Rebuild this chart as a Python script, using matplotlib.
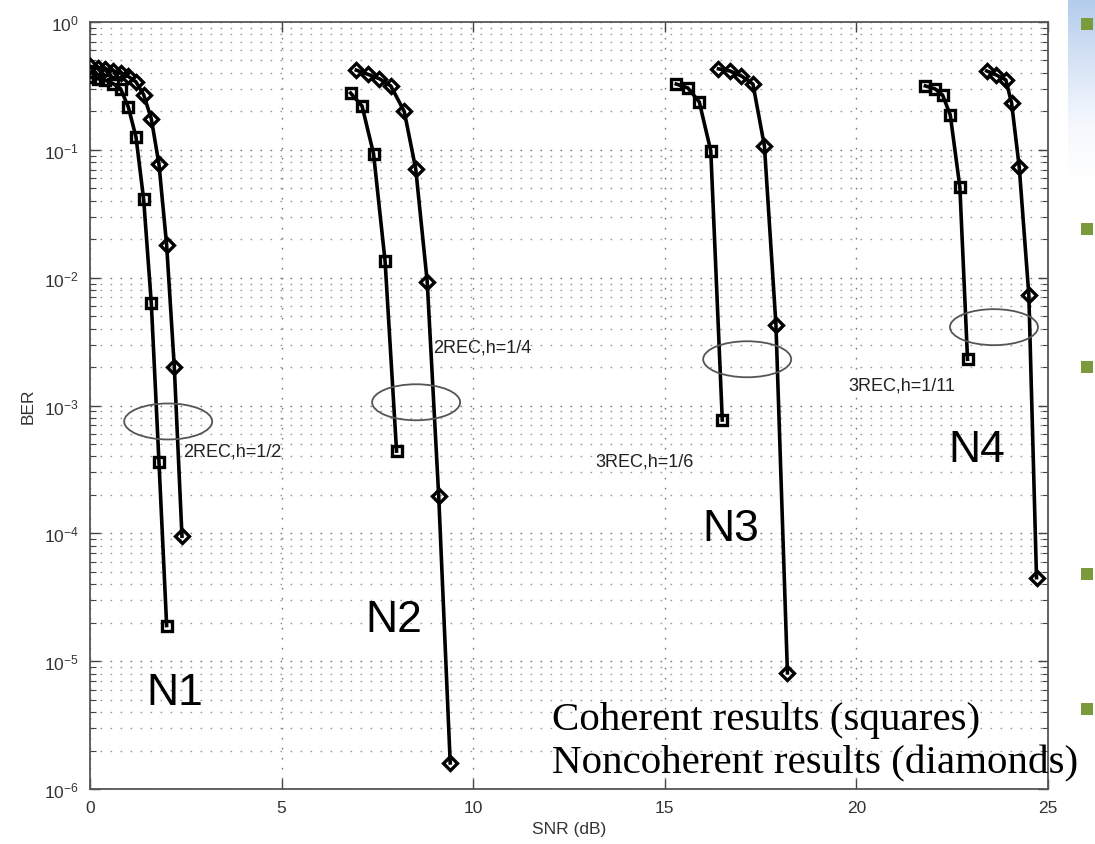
import numpy as np
import matplotlib
matplotlib.use("Agg")
import matplotlib.pyplot as plt
import matplotlib.transforms as mtransforms
from matplotlib.patches import Ellipse, Rectangle
from matplotlib.colors import LinearSegmentedColormap
from matplotlib.ticker import LogLocator, FixedLocator, LogFormatterMathtext, NullFormatter

plt.rcParams['font.family'] = ['Liberation Sans', 'DejaVu Sans']
plt.rcParams['mathtext.fontset'] = 'custom'
plt.rcParams['mathtext.rm'] = 'Liberation Sans'
plt.rcParams['mathtext.it'] = 'Liberation Sans:italic'
plt.rcParams['mathtext.bf'] = 'Liberation Sans:bold'

# ---------------- data ----------------
n1_coh_snr = [0.0, 0.2, 0.4, 0.6, 0.8, 1.0, 1.2, 1.4, 1.6, 1.8, 2.0]
n1_coh_ber = [0.37, 0.36, 0.35, 0.33, 0.30, 0.216, 0.126, 0.041, 0.0063, 3.6e-4, 1.9e-5]
n1_non_snr = [0.0, 0.2, 0.4, 0.6, 0.8, 1.0, 1.2, 1.4, 1.6, 1.8, 2.0, 2.2, 2.4]
n1_non_ber = [0.45, 0.44, 0.43, 0.415, 0.40, 0.375, 0.34, 0.27, 0.175, 0.077, 0.018, 0.002, 9.5e-5]

n2_coh_snr = [6.8, 7.1, 7.4, 7.7, 8.0]
n2_coh_ber = [0.278, 0.22, 0.093, 0.0135, 4.4e-4]
n2_non_snr = [6.95, 7.25, 7.55, 7.85, 8.2, 8.5, 8.8, 9.1, 9.4]
n2_non_ber = [0.42, 0.39, 0.36, 0.316, 0.20, 0.071, 0.0093, 1.95e-4, 1.6e-6]

n3_coh_snr = [15.3, 15.6, 15.9, 16.2, 16.5]
n3_coh_ber = [0.327, 0.305, 0.237, 0.098, 7.7e-4]
n3_non_snr = [16.4, 16.7, 17.0, 17.3, 17.6, 17.9, 18.2]
n3_non_ber = [0.43, 0.414, 0.378, 0.327, 0.107, 0.0043, 8.1e-6]

n4_coh_snr = [21.8, 22.05, 22.25, 22.45, 22.7, 22.9]
n4_coh_ber = [0.316, 0.30, 0.268, 0.187, 0.051, 2.3e-3]
n4_non_snr = [23.4, 23.65, 23.9, 24.05, 24.25, 24.5, 24.7]
n4_non_ber = [0.414, 0.385, 0.352, 0.232, 0.073, 0.0073, 4.5e-5]

group_names = ["N1", "N2", "N3", "N4"]
group_label_pos = [(1.46, 5.7e-6), (7.18, 2.1e-5), (15.97, 1.1e-4), (22.39, 4.5e-4)]
scheme_labels = ["2REC,h=1/2", "2REC,h=1/4", "3REC,h=1/6", "3REC,h=1/11"]
scheme_label_pos = [(2.43, 4.4e-4), (8.95, 2.87e-3), (13.2, 3.7e-4), (19.78, 1.45e-3)]
ellipse_centers = [(2.04, 7.5e-4), (8.51, 1.06e-3), (17.15, 2.3e-3), (23.59, 4.1e-3)]

x_ticks = [0, 5, 10, 15, 20, 25]

# ---------------- figure ----------------
W, H = 1095, 845
fig = plt.figure(figsize=(W / 100, H / 100), dpi=100)
fig.patch.set_facecolor('white')
ax = fig.add_axes([90 / W, 1 - 790 / H, (1048 - 90) / W, (790 - 23) / H])

ax.set_yscale('log')
ax.set_xlim(0, 25)
ax.set_ylim(1e-6, 1)

lw = 2.6
sq = dict(marker='s', markersize=7.8, markeredgewidth=2.4, markerfacecolor='none',
          markeredgecolor='black', color='black', linewidth=lw)
dm = dict(marker='D', markersize=7.0, markeredgewidth=2.4, markerfacecolor='none',
          markeredgecolor='black', color='black', linewidth=lw)

for s, b in [(n1_coh_snr, n1_coh_ber), (n2_coh_snr, n2_coh_ber),
             (n3_coh_snr, n3_coh_ber), (n4_coh_snr, n4_coh_ber)]:
    ax.plot(s, b, zorder=4, **sq)
for s, b in [(n1_non_snr, n1_non_ber), (n2_non_snr, n2_non_ber),
             (n3_non_snr, n3_non_ber), (n4_non_snr, n4_non_ber)]:
    ax.plot(s, b, zorder=4, **dm)

# grid
ax.xaxis.set_major_locator(FixedLocator(x_ticks))
ax.yaxis.set_major_locator(LogLocator(base=10, numticks=10))
ax.yaxis.set_minor_locator(LogLocator(base=10, subs=np.arange(2, 10), numticks=20))
ax.yaxis.set_major_formatter(LogFormatterMathtext())
ax.yaxis.set_minor_formatter(NullFormatter())
gls = (0, (1.2, 6.0))
ax.grid(True, which='major', axis='both', color='#777777', linestyle=gls, linewidth=1.0)
ax.grid(True, which='minor', axis='y', color='#999999', linestyle=gls, linewidth=1.0)
ax.set_axisbelow(True)

ax.tick_params(which='both', direction='in', top=True, right=True, colors='#444444',
               labelcolor='#333333', labelsize=12.5)
ax.tick_params(which='major', length=7, width=1.0, pad=8)
ax.tick_params(which='minor', length=4, width=0.8)
for sp in ax.spines.values():
    sp.set_color('#555555')
    sp.set_linewidth(1.3)

ax.set_xlabel('SNR (dB)', fontsize=12.5, color='#333333', labelpad=4)
ax.set_ylabel('BER', fontsize=12.5, color='#333333', labelpad=6)

# ellipses (fixed pixel size, centred at data points)
for (cx, cy) in ellipse_centers:
    tr = fig.dpi_scale_trans + mtransforms.ScaledTranslation(cx, cy, ax.transData)
    e = Ellipse((0, 0), width=0.88, height=0.36, transform=tr, fill=False,
                edgecolor='#555555', linewidth=1.3, zorder=5, clip_on=False)
    ax.add_artist(e)

for txt, (x, y) in zip(scheme_labels, scheme_label_pos):
    ax.text(x, y, txt, fontsize=13, color='#222222', ha='left', va='center', zorder=6)

for txt, (x, y) in zip(group_names, group_label_pos):
    ax.text(x, y, txt, fontsize=32, color='black', ha='left', va='center', zorder=6)

# slide overlay text
fig.text(552 / W, 1 - 730 / H, 'Coherent results (squares)', fontsize=29.5,
         family=['Liberation Serif', 'DejaVu Serif'], color='black', ha='left', va='baseline')
fig.text(552 / W, 1 - 773 / H, 'Noncoherent results (diamonds)', fontsize=29.5,
         family=['Liberation Serif', 'DejaVu Serif'], color='black', ha='left', va='baseline')

# slide decorations at the right edge
gax = fig.add_axes([1068 / W, 1 - 185 / H, 27 / W, 185 / H])
grad = np.linspace(0, 1, 100).reshape(-1, 1)
cmap = LinearSegmentedColormap.from_list('g', ['#b3ccec', '#d6e3f5', '#f4f8fd', '#ffffff'])
gax.imshow(grad, aspect='auto', cmap=cmap, extent=[0, 1, 0, 1])
gax.set_axis_off()

for yc in [25, 230, 368, 575, 710]:
    fig.patches.append(Rectangle(((1081) / W, 1 - (yc + 6) / H), 12 / W, 12 / H,
                                 transform=fig.transFigure, facecolor='#7a9a3c',
                                 edgecolor='none', zorder=10))

fig.savefig('out.png', dpi=100)
